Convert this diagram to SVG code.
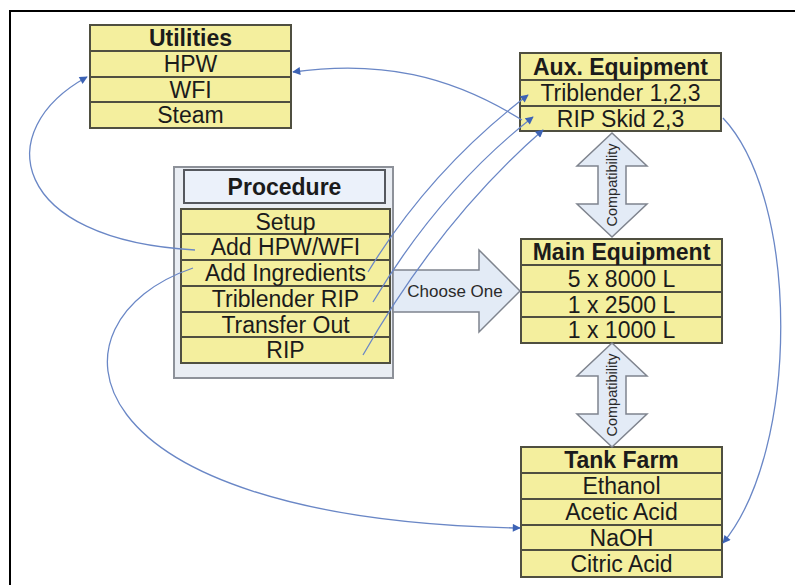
<svg xmlns="http://www.w3.org/2000/svg" width="795" height="585" viewBox="0 0 795 585">
  <defs>
    <marker id="arrow" viewBox="0 0 10 10" refX="9" refY="5" markerWidth="10" markerHeight="8" markerUnits="userSpaceOnUse" orient="auto">
      <path d="M0,0 L10,5 L0,10 z" fill="#3d63b5"/>
    </marker>
    <style>
      .row { fill: #f4ef9e; stroke: #4f4f40; stroke-width: 2; }
      .txt { font-family: "Liberation Sans", Arial, sans-serif; font-size: 23px; fill: #1b1b1b; text-anchor: middle; }
      .hdr { font-weight: bold; }
      .link { fill: none; stroke: #6a87c6; stroke-width: 1.3; marker-end: url(#arrow); }
      .bigarrow { fill: #e3ebf6; stroke: #7f848e; stroke-width: 1.5; }
      .small { font-family: "Liberation Sans", Arial, sans-serif; fill: #2a2a2a; text-anchor: middle; }
    </style>
  </defs>

  <!-- frame -->
  <rect x="10" y="11" width="800" height="600" fill="#ffffff" stroke="#000000" stroke-width="2"/>

  <!-- Utilities -->
  <g id="utilities">
    <rect class="row" x="90" y="25" width="201" height="26"/>
    <rect class="row" x="90" y="51" width="201" height="26"/>
    <rect class="row" x="90" y="77" width="201" height="25"/>
    <rect class="row" x="90" y="102" width="201" height="26"/>
    <text class="txt hdr" x="190.5" y="46">Utilities</text>
    <text class="txt" x="190.5" y="72">HPW</text>
    <text class="txt" x="190.5" y="97.5">WFI</text>
    <text class="txt" x="190.5" y="123">Steam</text>
  </g>

  <!-- Aux. Equipment -->
  <g id="aux-equipment">
    <rect class="row" x="520" y="53" width="201" height="27"/>
    <rect class="row" x="520" y="80" width="201" height="26"/>
    <rect class="row" x="520" y="106" width="201" height="25"/>
    <text class="txt hdr" x="620.5" y="75">Aux. Equipment</text>
    <text class="txt" x="620.5" y="101">Triblender 1,2,3</text>
    <text class="txt" x="620.5" y="126.5">RIP Skid 2,3</text>
  </g>

  <!-- Procedure -->
  <g id="procedure">
    <rect x="174" y="167" width="219" height="211" fill="#e9edf3" stroke="#8d9199" stroke-width="2"/>
    <rect x="184" y="170" width="201" height="33" fill="#ebf1fa" stroke="#55585e" stroke-width="2"/>
    <text class="txt hdr" x="284.5" y="195">Procedure</text>
    <rect class="row" x="181" y="209" width="209" height="25"/>
    <rect class="row" x="181" y="234" width="209" height="26"/>
    <rect class="row" x="181" y="260" width="209" height="26"/>
    <rect class="row" x="181" y="286" width="209" height="26"/>
    <rect class="row" x="181" y="312" width="209" height="25"/>
    <rect class="row" x="181" y="337" width="209" height="26"/>
    <text class="txt" x="285.5" y="229.5">Setup</text>
    <text class="txt" x="285.5" y="255">Add HPW/WFI</text>
    <text class="txt" x="285.5" y="281">Add Ingredients</text>
    <text class="txt" x="285.5" y="307">Triblender RIP</text>
    <text class="txt" x="285.5" y="332.5">Transfer Out</text>
    <text class="txt" x="285.5" y="358">RIP</text>
  </g>

  <!-- Main Equipment -->
  <g id="main-equipment">
    <rect class="row" x="521" y="239" width="201" height="26"/>
    <rect class="row" x="521" y="265" width="201" height="27"/>
    <rect class="row" x="521" y="292" width="201" height="25"/>
    <rect class="row" x="521" y="317" width="201" height="26"/>
    <text class="txt hdr" x="621.5" y="260">Main Equipment</text>
    <text class="txt" x="621.5" y="286.5">5 x 8000 L</text>
    <text class="txt" x="621.5" y="312.5">1 x 2500 L</text>
    <text class="txt" x="621.5" y="338">1 x 1000 L</text>
  </g>

  <!-- Tank Farm -->
  <g id="tank-farm">
    <rect class="row" x="521" y="447" width="201" height="26"/>
    <rect class="row" x="521" y="473" width="201" height="26"/>
    <rect class="row" x="521" y="499" width="201" height="26"/>
    <rect class="row" x="521" y="525" width="201" height="25"/>
    <rect class="row" x="521" y="550" width="201" height="27"/>
    <text class="txt hdr" x="621.5" y="468">Tank Farm</text>
    <text class="txt" x="621.5" y="494">Ethanol</text>
    <text class="txt" x="621.5" y="520">Acetic Acid</text>
    <text class="txt" x="621.5" y="545.5">NaOH</text>
    <text class="txt" x="621.5" y="571.5">Citric Acid</text>
  </g>

  <!-- Choose One -->
  <g id="choose-one">
    <polygon class="bigarrow" points="393,270 479,270 479,250 520,291 479,332 479,312 393,312"/>
    <text class="small" x="455" y="297" font-size="17">Choose One</text>
  </g>

  <!-- Compatibility: Aux / Main -->
  <g id="compat-aux-main">
    <polygon class="bigarrow" points="612,133 647,166 626,166 626,204 647,204 612,237 577,204 598,204 598,166 577,166"/>
    <text class="small" transform="translate(617,185) rotate(-90)" font-size="14.5">Compatibility</text>
  </g>

  <!-- Compatibility: Main / Tank Farm -->
  <g id="compat-main-tank">
    <polygon class="bigarrow" points="612,343 647,376 626,376 626,414 647,414 612,447 577,414 598,414 598,376 577,376"/>
    <text class="small" transform="translate(617,395) rotate(-90)" font-size="14.5">Compatibility</text>
  </g>

  <!-- connectors -->
  <g id="connectors">
    <path class="link" d="M195,250 C10,240 -10,130 87,77"/>
    <path class="link" d="M522,120 C450,75 380,60 293,72"/>
    <path class="link" d="M368,272 Q430,170 528,95"/>
    <path class="link" d="M373,302 Q440,190 533,117"/>
    <path class="link" d="M363,355 Q440,220 543,130"/>
    <path class="link" d="M193,268 C40,320 60,520 520,528"/>
    <path class="link" d="M723,118 C800,200 800,450 723,543"/>
  </g>
</svg>
